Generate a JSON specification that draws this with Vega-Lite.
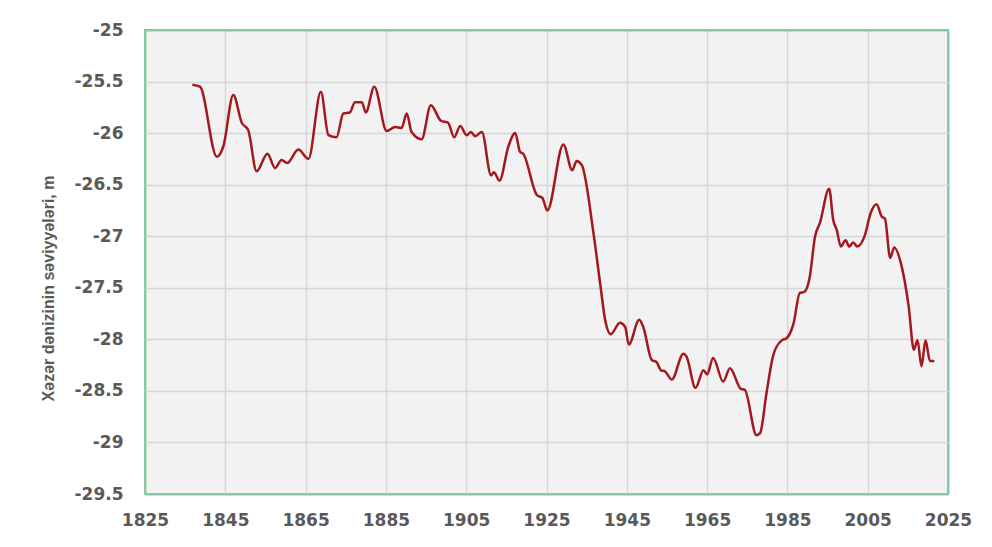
{
  "$schema": "https://vega.github.io/schema/vega-lite/v6.json",
  "width": 803,
  "height": 464,
  "autosize": "none",
  "padding": {"left": 145, "top": 30, "right": 44, "bottom": 53},
  "background": "white",
  "config": {
    "view": {"fill": "#f2f2f2", "stroke": "#86c9a3", "strokeWidth": 2},
    "axis": {
      "labelFont": "DejaVu Sans",
      "labelFontWeight": "bold",
      "labelFontSize": 17,
      "labelColor": "#595959",
      "ticks": false,
      "domain": false,
      "gridWidth": 1.5
    }
  },
  "data": {
    "values": [
      {"year": 1836.8, "level": -25.53},
      {"year": 1838.7, "level": -25.55},
      {"year": 1842.9, "level": -26.23},
      {"year": 1844.5, "level": -26.13},
      {"year": 1847.0, "level": -25.63},
      {"year": 1849.1, "level": -25.9},
      {"year": 1850.7, "level": -25.97},
      {"year": 1852.8, "level": -26.37},
      {"year": 1855.5, "level": -26.2},
      {"year": 1857.4, "level": -26.34},
      {"year": 1859.0, "level": -26.26},
      {"year": 1860.4, "level": -26.29},
      {"year": 1863.2, "level": -26.16},
      {"year": 1865.7, "level": -26.25},
      {"year": 1868.8, "level": -25.6},
      {"year": 1870.7, "level": -26.02},
      {"year": 1872.7, "level": -26.04},
      {"year": 1874.4, "level": -25.81},
      {"year": 1876.0, "level": -25.8},
      {"year": 1877.3, "level": -25.7},
      {"year": 1879.0, "level": -25.7},
      {"year": 1880.0, "level": -25.8},
      {"year": 1882.1, "level": -25.55},
      {"year": 1885.2, "level": -25.98},
      {"year": 1887.3, "level": -25.94},
      {"year": 1888.9, "level": -25.95},
      {"year": 1890.2, "level": -25.81},
      {"year": 1891.4, "level": -25.99},
      {"year": 1893.9, "level": -26.06},
      {"year": 1896.2, "level": -25.73},
      {"year": 1898.7, "level": -25.88},
      {"year": 1900.5, "level": -25.9},
      {"year": 1902.0, "level": -26.04},
      {"year": 1903.5, "level": -25.93},
      {"year": 1905.1, "level": -26.02},
      {"year": 1906.2, "level": -25.99},
      {"year": 1907.2, "level": -26.03},
      {"year": 1908.9, "level": -25.99},
      {"year": 1911.2, "level": -26.41},
      {"year": 1911.9, "level": -26.38},
      {"year": 1913.3, "level": -26.46},
      {"year": 1915.5, "level": -26.13},
      {"year": 1917.2, "level": -26.0},
      {"year": 1918.4, "level": -26.18},
      {"year": 1919.2, "level": -26.2},
      {"year": 1922.6, "level": -26.6},
      {"year": 1924.0, "level": -26.63},
      {"year": 1925.2, "level": -26.75},
      {"year": 1929.2, "level": -26.11},
      {"year": 1931.4, "level": -26.36},
      {"year": 1932.5, "level": -26.27},
      {"year": 1933.8, "level": -26.31},
      {"year": 1936.7, "level": -26.97},
      {"year": 1938.5, "level": -27.5},
      {"year": 1939.6, "level": -27.81},
      {"year": 1941.0, "level": -27.95},
      {"year": 1943.3, "level": -27.84},
      {"year": 1944.6, "level": -27.88},
      {"year": 1945.5, "level": -28.05},
      {"year": 1948.1, "level": -27.81},
      {"year": 1949.1, "level": -27.88},
      {"year": 1951.2, "level": -28.2},
      {"year": 1952.4, "level": -28.22},
      {"year": 1953.5, "level": -28.3},
      {"year": 1954.5, "level": -28.31},
      {"year": 1956.2, "level": -28.39},
      {"year": 1959.1, "level": -28.14},
      {"year": 1959.9, "level": -28.17},
      {"year": 1962.1, "level": -28.47},
      {"year": 1964.1, "level": -28.3},
      {"year": 1965.0, "level": -28.34},
      {"year": 1966.5, "level": -28.18},
      {"year": 1969.0, "level": -28.41},
      {"year": 1970.7, "level": -28.28},
      {"year": 1973.4, "level": -28.48},
      {"year": 1974.4, "level": -28.49},
      {"year": 1977.3, "level": -28.93},
      {"year": 1978.2, "level": -28.91},
      {"year": 1979.8, "level": -28.52},
      {"year": 1981.5, "level": -28.15},
      {"year": 1983.6, "level": -28.01},
      {"year": 1984.8, "level": -27.99},
      {"year": 1986.5, "level": -27.85},
      {"year": 1988.1, "level": -27.55},
      {"year": 1989.2, "level": -27.54},
      {"year": 1990.5, "level": -27.41},
      {"year": 1991.9, "level": -27.0},
      {"year": 1993.1, "level": -26.87},
      {"year": 1995.4, "level": -26.54},
      {"year": 1996.4, "level": -26.84},
      {"year": 1997.3, "level": -26.94},
      {"year": 1998.3, "level": -27.1},
      {"year": 1999.5, "level": -27.04},
      {"year": 2000.4, "level": -27.1},
      {"year": 2001.4, "level": -27.06},
      {"year": 2002.4, "level": -27.1},
      {"year": 2004.3, "level": -26.99},
      {"year": 2005.7, "level": -26.78},
      {"year": 2007.2, "level": -26.69},
      {"year": 2008.5, "level": -26.81},
      {"year": 2009.3, "level": -26.83},
      {"year": 2010.6, "level": -27.21},
      {"year": 2011.6, "level": -27.11},
      {"year": 2013.5, "level": -27.3},
      {"year": 2015.2, "level": -27.68},
      {"year": 2016.5, "level": -28.1},
      {"year": 2017.4, "level": -28.01},
      {"year": 2018.4, "level": -28.26},
      {"year": 2019.4, "level": -28.01},
      {"year": 2020.5, "level": -28.21},
      {"year": 2021.6, "level": -28.21}
    ]
  },
  "mark": {"type": "line", "color": "#a3181d", "strokeWidth": 2.5, "interpolate": "monotone"},
  "encoding": {
    "x": {
      "field": "year",
      "type": "quantitative",
      "scale": {"domain": [1825, 2025], "nice": false, "zero": false},
      "axis": {
        "title": null,
        "values": [1825, 1845, 1865, 1885, 1905, 1925, 1945, 1965, 1985, 2005, 2025],
        "format": "d",
        "labelPadding": 18,
        "labelFlush": false,
        "gridColor": {"condition": {"test": "datum.value == 1825 || datum.value == 2025", "value": "#86c9a3"}, "value": "#d6d6d6"},
        "gridWidth": {"condition": {"test": "datum.value == 1825 || datum.value == 2025", "value": 2}, "value": 1.5}
      }
    },
    "y": {
      "field": "level",
      "type": "quantitative",
      "scale": {"domain": [-29.5, -25], "nice": false, "zero": false},
      "axis": {
        "title": "Xəzər dənizinin səviyyələri, m",
        "titleFont": "Liberation Sans",
        "titleFontWeight": "bold",
        "titleFontSize": 16,
        "titleColor": "#595959",
        "titlePadding": 18,
        "titleY": 258,
        "values": [-25, -25.5, -26, -26.5, -27, -27.5, -28, -28.5, -29, -29.5],
        "labelExpr": "'' + datum.value",
        "labelPadding": 22,
        "labelFlush": false,
        "gridColor": {"condition": {"test": "datum.value == -25 || datum.value == -29.5", "value": "#86c9a3"}, "value": "#d6d6d6"},
        "gridWidth": {"condition": {"test": "datum.value == -25 || datum.value == -29.5", "value": 2}, "value": 1.5}
      }
    }
  }
}
